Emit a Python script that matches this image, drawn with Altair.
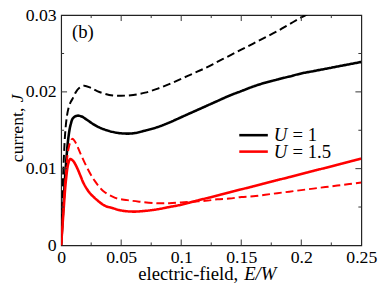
import altair as alt
import pandas as pd

# ---- data ----
E_u1_solid = [0, 0.002, 0.004, 0.006, 0.008, 0.010, 0.0135, 0.017, 0.022, 0.03, 0.04, 0.05, 0.06, 0.07,
              0.08, 0.09, 0.1, 0.11, 0.12, 0.13, 0.14, 0.15, 0.16, 0.17, 0.18, 0.19, 0.2, 0.21, 0.22, 0.23, 0.24, 0.25]
J_u1_solid = [0, 0.0055, 0.0105, 0.014, 0.0158, 0.0166, 0.0169, 0.0168, 0.0163, 0.0155, 0.0149, 0.0146, 0.0146, 0.01495,
              0.0154, 0.0160, 0.0167, 0.0174, 0.0181, 0.0188, 0.0195, 0.0201, 0.0207, 0.0212, 0.0216, 0.0220, 0.0224,
              0.0227, 0.0230, 0.0233, 0.0236, 0.0239]

E_u1_dash = [0, 0.002, 0.004, 0.006, 0.008, 0.0095, 0.012, 0.015, 0.019, 0.025, 0.03, 0.04, 0.05, 0.06, 0.07,
             0.08, 0.09, 0.1, 0.11, 0.12, 0.13, 0.14, 0.15, 0.16, 0.17, 0.18, 0.19, 0.2, 0.21, 0.22]
J_u1_dash = [0, 0.0105, 0.0158, 0.0178, 0.0187, 0.0191, 0.0199, 0.0205, 0.0208, 0.0205, 0.0201, 0.0196, 0.0195, 0.0196, 0.0199,
             0.0204, 0.0210, 0.0217, 0.0224, 0.0231, 0.0239, 0.0247, 0.0255, 0.0263, 0.0271, 0.0279, 0.0288, 0.0297,
             0.0305, 0.0313]

E_u15_solid = [0, 0.002, 0.004, 0.006, 0.0076, 0.01, 0.013, 0.016, 0.019, 0.024, 0.03, 0.036, 0.043, 0.05, 0.06,
               0.07, 0.08, 0.09, 0.1, 0.11, 0.12, 0.13, 0.14, 0.15, 0.16, 0.17, 0.18, 0.19, 0.2, 0.21, 0.22, 0.23,
               0.24, 0.25]
J_u15_solid = [0, 0.0045, 0.0085, 0.0107, 0.01125, 0.0110, 0.0102, 0.0091, 0.0080, 0.0068, 0.0059, 0.0052, 0.00485, 0.00455,
               0.0044, 0.0045, 0.0047, 0.0050, 0.0053, 0.0057, 0.0061, 0.0065, 0.0069, 0.0073, 0.0077, 0.0081, 0.0085,
               0.0089, 0.0093, 0.0097, 0.0101, 0.0105, 0.0109, 0.0113]

E_u15_dash = [0, 0.002, 0.004, 0.006, 0.008, 0.0095, 0.012, 0.016, 0.0217, 0.028, 0.035, 0.045, 0.055, 0.065, 0.08,
              0.09, 0.1, 0.11, 0.12, 0.13, 0.14, 0.15, 0.16, 0.17, 0.18, 0.19, 0.2, 0.21, 0.22, 0.23, 0.24, 0.25]
J_u15_dash = [0, 0.005, 0.0095, 0.0125, 0.0136, 0.0139, 0.0134, 0.0120, 0.0101, 0.0084, 0.0071, 0.0062, 0.0059, 0.0057,
              0.0055, 0.0055, 0.0056, 0.0057, 0.0058, 0.0060, 0.0061, 0.0063, 0.0064, 0.0066, 0.0068, 0.0070, 0.0072,
              0.0074, 0.0076, 0.0078, 0.0080, 0.0082]

x_major_ticks = [0.05, 0.1, 0.15, 0.2]
x_minor_ticks = [0.025, 0.075, 0.125, 0.175, 0.225]
y_major_ticks = [0.01, 0.02]
y_minor_ticks = [0.005, 0.015, 0.025]
x_tick_labels = [0, 0.05, 0.1, 0.15, 0.2, 0.25]
y_tick_labels = [0, 0.01, 0.02, 0.03]

rows = []
for E, J, U, st in [(E_u1_solid, J_u1_solid, "1", "solid"), (E_u1_dash, J_u1_dash, "1", "dashed"),
                    (E_u15_solid, J_u15_solid, "1.5", "solid"), (E_u15_dash, J_u15_dash, "1.5", "dashed")]:
    for e, j in zip(E, J):
        rows.append({"E": e, "J": j, "U": U, "style": st, "series": U + st})
df = pd.DataFrame(rows)

W, H = 305, 234
FONT = "'Liberation Serif', 'Times New Roman', 'DejaVu Serif', serif"

xs = alt.Scale(domain=[0, 0.25], nice=False, zero=False)
ys = alt.Scale(domain=[0, 0.03], nice=False, zero=False)
X_AXIS = alt.Axis(values=x_tick_labels, format="~g", title=None, ticks=False,
                  domain=False, grid=False, labelFont=FONT, labelFontSize=18,
                  labelColor="black", labelPadding=3, labelOverlap=False,
                  labelFlush=False, labelBound=False)
Y_AXIS = alt.Axis(values=y_tick_labels, format="~g", title=None, ticks=False,
                  domain=False, grid=False, labelFont=FONT, labelFontSize=18,
                  labelColor="black", labelPadding=5, labelOverlap=False,
                  labelFlush=False, labelBound=False)

lines = alt.Chart(df).mark_line(clip=True, interpolate="catmull-rom").encode(
    x=alt.X("E:Q", scale=xs, axis=X_AXIS),
    y=alt.Y("J:Q", scale=ys, axis=Y_AXIS),
    color=alt.Color("U:N", scale=alt.Scale(domain=["1", "1.5"], range=["black", "#ff0000"]), legend=None),
    strokeDash=alt.StrokeDash("style:N", scale=alt.Scale(domain=["solid", "dashed"], range=[[1, 0], [8, 4]]), legend=None),
    strokeWidth=alt.StrokeWidth("style:N", scale=alt.Scale(domain=["solid", "dashed"], range=[2.6, 2.0]), legend=None),
    detail="series:N",
)

tick_color = "#333333"
xmaj = pd.DataFrame({"v": x_major_ticks})
xmin = pd.DataFrame({"v": x_minor_ticks})
ymaj = pd.DataFrame({"v": y_major_ticks})
ymin = pd.DataFrame({"v": y_minor_ticks})

def xt(d, length, top):
    if top:
        return alt.Chart(d).mark_rule(color=tick_color, strokeWidth=1).encode(
            x=alt.X("v:Q", scale=xs, axis=X_AXIS), y=alt.value(0), y2=alt.value(length))
    return alt.Chart(d).mark_rule(color=tick_color, strokeWidth=1).encode(
        x=alt.X("v:Q", scale=xs, axis=X_AXIS), y=alt.value(H), y2=alt.value(H - length))

def yt(d, length, right):
    if right:
        return alt.Chart(d).mark_rule(color=tick_color, strokeWidth=1).encode(
            y=alt.Y("v:Q", scale=ys, axis=Y_AXIS), x=alt.value(W), x2=alt.value(W - length))
    return alt.Chart(d).mark_rule(color=tick_color, strokeWidth=1).encode(
        y=alt.Y("v:Q", scale=ys, axis=Y_AXIS), x=alt.value(0), x2=alt.value(length))

ticks = [xt(xmaj, 6, False), xt(xmaj, 6, True), xt(xmin, 3, False), xt(xmin, 3, True),
         yt(ymaj, 6, False), yt(ymaj, 6, True), yt(ymin, 3, False), yt(ymin, 3, True)]

def txt(s, x, y, size=19, italic=False, align="left", baseline="middle", angle=0):
    kw = dict(text=s, font=FONT, fontSize=size, color="black", align=align, baseline=baseline)
    if italic:
        kw["fontStyle"] = "italic"
    if angle:
        kw["angle"] = angle
    return alt.Chart(pd.DataFrame({"a": [0]})).mark_text(**kw).encode(x=alt.value(x), y=alt.value(y))

def leg(y, color):
    return alt.Chart(pd.DataFrame({"a": [0]})).mark_rule(color=color, strokeWidth=2.6).encode(
        x=alt.value(181), x2=alt.value(210), y=alt.value(y))

texts = [
    txt("(b)", 11, 17, size=19),
    leg(122, "black"), leg(138.7, "#ff0000"),
    txt("U", 216, 122, italic=True), txt("= 1", 235, 122),
    txt("U", 216, 138.7, italic=True), txt("= 1.5", 235, 138.7),
    txt("electric-field,", 180, 269, align="right", baseline="alphabetic"),
    txt("E/W", 186, 269, italic=True, baseline="alphabetic"),
    txt("current,", -39, 94, size=18, align="right", baseline="alphabetic", angle=270),
    txt("J", -39, 88.5, size=18, italic=True, align="left", baseline="alphabetic", angle=270),
]

chart = alt.layer(lines, *ticks, *texts).properties(
    width=W, height=H,
    autosize=alt.AutoSizeParams(type="none"),
    padding={"left": 54, "top": 5, "right": 20, "bottom": 38},
).configure_view(stroke="#222222", strokeWidth=1.2).configure_axis(
    labelFont=FONT, labelFontSize=18, labelColor="black"
)

chart.save("out.html", embed_options={"renderer": "svg", "actions": False})
